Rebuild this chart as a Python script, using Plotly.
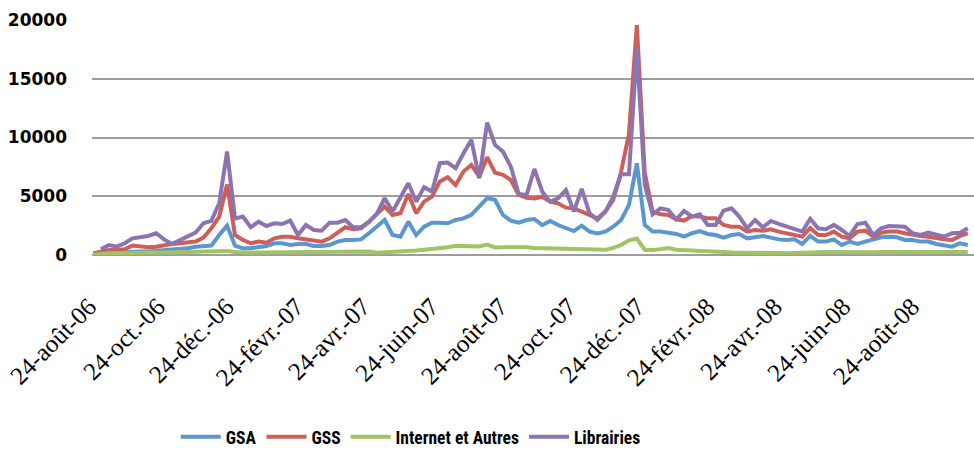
import datetime as dt
import plotly.graph_objects as go

start = dt.date(2006, 8, 24)
n_points = 112
dates = [start + dt.timedelta(weeks=i) for i in range(n_points)]

series_names = ["GSA", "GSS", "Internet et Autres", "Librairies"]

gsa = [50, 150, 200, 200, 250, 300, 300, 300, 350, 380,
       430, 480, 570, 700, 770, 800, 1700, 2500, 800, 570,
       570, 710, 770, 1000, 1000, 850, 940, 940, 770, 770,
       850, 1140, 1280, 1280, 1330, 1850, 2400, 2980, 1700, 1560,
       2840, 1700, 2410, 2750, 2750, 2700, 2980, 3120, 3410, 4170,
       4830, 4690, 3410, 2930, 2750, 2980, 3060, 2550, 2890, 2550,
       2270, 2040, 2500, 1990, 1840, 1990, 2410, 2980, 4260, 7800,
       2550, 1990, 1990, 1900, 1790, 1560, 1850, 2040, 1790, 1700,
       1480, 1700, 1790, 1420, 1510, 1620, 1480, 1330, 1280, 1330,
       940, 1620, 1140, 1140, 1330, 850, 1140, 940, 1140, 1330,
       1510, 1560, 1510, 1280, 1280, 1140, 1140, 940, 850, 710,
       1000, 850]

gss = [140, 280, 430, 430, 480, 800, 710, 650, 710, 850,
       940, 1000, 1050, 1140, 1480, 2270, 3270, 6000, 1700, 1280,
       1000, 1140, 1050, 1420, 1560, 1560, 1420, 1330, 1280, 1140,
       1420, 1850, 2360, 2190, 2270, 2840, 3500, 4120, 3400, 3550,
       5200, 3550, 4540, 4970, 6250, 6620, 5960, 7100, 7670, 6670,
       8320, 7010, 6820, 6390, 5110, 4880, 4820, 4960, 4540, 4400,
       4030, 3970, 3690, 3400, 3120, 3690, 4680, 7090, 10300, 19570,
       7000, 3690, 3460, 3410, 3040, 2930, 3320, 3270, 3120, 3120,
       2560, 2410, 2410, 1990, 2130, 2070, 2190, 1990, 1850, 1700,
       1560, 2300, 1700, 1700, 1990, 1560, 1420, 1990, 2070, 1560,
       1900, 1990, 1990, 1850, 1700, 1620, 1560, 1420, 1330, 1280,
       1620, 1850]

internet = [30, 100, 150, 150, 180, 200, 200, 200, 220, 220,
            230, 250, 250, 270, 280, 300, 320, 350, 250, 200,
            200, 220, 220, 230, 250, 250, 230, 240, 250, 250,
            260, 270, 280, 280, 290, 300, 200, 220, 250, 300,
            330, 380, 450, 500, 570, 650, 780, 780, 760, 720,
            880, 640, 660, 680, 690, 650, 600, 580, 570, 520,
            480, 450, 470, 440, 430, 440, 600, 850, 1250, 1400,
            450, 430, 500, 600, 450, 430, 380, 350, 300, 280,
            250, 220, 200, 180, 150, 150, 150, 150, 150, 180,
            200, 280, 250, 250, 250, 230, 230, 230, 230, 230,
            250, 250, 250, 230, 230, 230, 250, 230, 230, 220,
            250, 250]

librairies = [None, 480, 850, 710, 1000, 1420, 1500, 1620, 1850, 1330,
              940, 1280, 1560, 1900, 2700, 2900, 4400, 8800, 3100, 3270,
              2360, 2840, 2470, 2700, 2640, 2930, 1700, 2560, 2130, 2070,
              2750, 2750, 2980, 2360, 2360, 2800, 3500, 4830, 3700, 4830,
              6100, 4540, 5770, 5400, 7810, 7870, 7380, 8660, 9800, 6530,
              11270, 9370, 8800, 7530, 5200, 5110, 7320, 5390, 4540, 4820,
              5530, 3690, 5620, 3550, 2980, 3690, 4960, 6870, 6870, 17590,
              6000, 3460, 3970, 3830, 3040, 3750, 3270, 3460, 2560, 2560,
              3780, 3980, 3270, 2270, 2980, 2360, 2900, 2640, 2410, 2130,
              1990, 3080, 2270, 2190, 2560, 2130, 1620, 2640, 2750, 1700,
              2270, 2470, 2470, 2410, 1850, 1700, 1900, 1700, 1560, 1850,
              1900, 2270]

tick_dates = ["2006-08-24", "2006-10-24", "2006-12-24", "2007-02-24", "2007-04-24",
              "2007-06-24", "2007-08-24", "2007-10-24", "2007-12-24", "2008-02-24",
              "2008-04-24", "2008-06-24", "2008-08-24"]
tick_labels = ["24-août-06", "24-oct.-06", "24-déc.-06", "24-févr.-07", "24-avr.-07",
               "24-juin-07", "24-août-07", "24-oct.-07", "24-déc.-07", "24-févr.-08",
               "24-avr.-08", "24-juin-08", "24-août-08"]

y_ticks = [0, 5000, 10000, 15000, 20000]

colors = ["#5B97CF", "#CE5F58", "#A2C363", "#8C74B0"]

fig = go.Figure()
for name, vals, col in zip(series_names, [gsa, gss, internet, librairies], colors):
    fig.add_trace(go.Scatter(x=dates, y=vals, name=name, mode="lines",
                             line=dict(color=col, width=4), connectgaps=False))

legend_font = "Roboto Condensed, Liberation Sans Narrow, Roboto, sans-serif"

fig.update_layout(
    width=974, height=450,
    margin=dict(l=92, r=0, t=20, b=195, autoexpand=False),
    paper_bgcolor="white", plot_bgcolor="white",
    showlegend=True,
    legend=dict(orientation="h", x=0.095, xanchor="left", y=-0.774, yanchor="middle",
                font=dict(family=legend_font, size=17.5, color="black", weight="bold"),
                itemwidth=40, traceorder="normal"),
    xaxis=dict(type="date", range=["2006-08-23", "2008-10-14 12:00"],
               tickvals=tick_dates, ticktext=tick_labels, tickangle=-45,
               tickfont=dict(family="Liberation Serif, serif", size=25, color="black"),
               showgrid=False, showline=False, zeroline=False, ticks="",
               automargin=False, ticklabelstandoff=31, ticklabelshift=-4,
               ticklabeloverflow="allow"),
    yaxis=dict(range=[0, 20000], tickvals=y_ticks, ticktext=[str(v) for v in y_ticks],
               showgrid=True, gridcolor="#9C9C9C", gridwidth=2,
               zeroline=True, zerolinecolor="#9C9C9C", zerolinewidth=2,
               tickfont=dict(family="DejaVu Sans, sans-serif", size=17, color="black", weight="bold"),
               ticks="", automargin=False, ticklabelstandoff=24),
)

fig.write_html("out.html", config={"displayModeBar": False},
               post_script="document.body.style.margin='0';document.body.style.padding='0';")
